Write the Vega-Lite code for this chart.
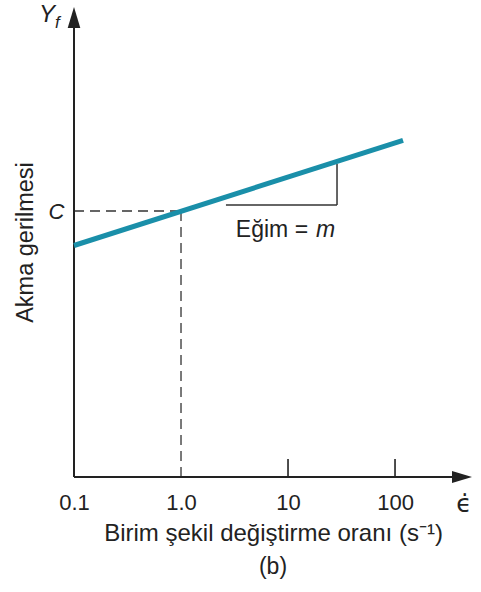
{
  "$schema": "https://vega.github.io/schema/vega-lite/v6.json",
  "width": 398,
  "height": 470,
  "autosize": {"type": "none"},
  "padding": {"left": 74, "top": 7, "right": 9, "bottom": 115},
  "background": "white",
  "config": {"view": {"stroke": null}, "font": "Liberation Sans"},
  "encoding": {
    "x": {
      "field": "x", "type": "quantitative",
      "scale": {"type": "log", "domain": [0.1, 524], "nice": false},
      "axis": {
        "values": [0.1, 1, 10, 100],
        "labelExpr": "datum.value < 0.5 ? '0.1' : datum.value < 5 ? '1.0' : datum.value < 50 ? '10' : '100'",
        "domain": false, "ticks": false, "grid": false,
        "labelFlush": false, "labelOverlap": false, "labelBound": false,
        "labelFont": "Liberation Sans", "labelFontSize": 22, "labelColor": "#222", "labelPadding": 15,
        "title": "Birim şekil değiştirme oranı (s⁻¹)",
        "titleFont": "Liberation Sans", "titleFontSize": 24, "titleFontWeight": "normal", "titleColor": "#222",
        "titleY": 63, "titleBaseline": "alphabetic"
      }
    },
    "y": {
      "field": "y", "type": "quantitative",
      "scale": {"domain": [0, 470], "nice": false, "zero": false},
      "axis": {
        "values": [266],
        "labelExpr": "'C'",
        "domain": false, "ticks": false, "grid": false,
        "labelFont": "Liberation Sans", "labelFontSize": 22, "labelFontStyle": "italic", "labelColor": "#222", "labelPadding": 10,
        "title": "Akma gerilmesi",
        "titleFont": "Liberation Sans", "titleFontSize": 23.5, "titleFontWeight": "normal", "titleColor": "#222",
        "titleX": -49, "titleY": 235, "titleAngle": 270, "titleBaseline": "middle", "titleAlign": "center"
      }
    }
  },
  "layer": [
    {
      "data": {"values": [
        {"x": 0.1, "y": 266, "x2": 1, "y2": 266},
        {"x": 1, "y": 0, "x2": 1, "y2": 266}
      ]},
      "mark": {"type": "rule", "color": "#333", "strokeWidth": 1.3, "strokeDash": [10, 6], "clip": false},
      "encoding": {"x2": {"field": "x2"}, "y2": {"field": "y2"}}
    },
    {
      "data": {"values": [
        {"x": 0.1, "y": 0, "x2": 0.1, "y2": 451},
        {"x": 0.1, "y": 0, "x2": 363.8, "y2": 0}
      ]},
      "mark": {"type": "rule", "color": "#222", "strokeWidth": 2, "clip": false},
      "encoding": {"x2": {"field": "x2"}, "y2": {"field": "y2"}}
    },
    {
      "data": {"values": [
        {"x": 10, "y": 0, "x2": 10, "y2": 18},
        {"x": 100, "y": 0, "x2": 100, "y2": 18}
      ]},
      "mark": {"type": "rule", "color": "#222", "strokeWidth": 1.6, "clip": false},
      "encoding": {"x2": {"field": "x2"}, "y2": {"field": "y2"}}
    },
    {
      "data": {"values": [
        {"x": 2.63, "y": 272, "x2": 28.7, "y2": 272},
        {"x": 28.7, "y": 272, "x2": 28.7, "y2": 313}
      ]},
      "mark": {"type": "rule", "color": "#333", "strokeWidth": 1.5, "clip": false},
      "encoding": {"x2": {"field": "x2"}, "y2": {"field": "y2"}}
    },
    {
      "data": {"values": [
        {"x": 0.1, "y": 231.5},
        {"x": 118.8, "y": 336.7}
      ]},
      "mark": {"type": "line", "color": "#1a8fa9", "strokeWidth": 5, "strokeCap": "butt", "clip": false},
      "encoding": {}
    },
    {
      "data": {"values": [{"x": 0.1, "y": 459.5}]},
      "mark": {"type": "point", "filled": true, "opacity": 1, "color": "#222", "shape": "M0,-1L0.6,1L-0.6,1Z", "size": 441, "clip": false},
      "encoding": {}
    },
    {
      "data": {"values": [{"x": 422.7, "y": 0}]},
      "mark": {"type": "point", "filled": true, "opacity": 1, "color": "#222", "shape": "M1,0L-1,0.6L-1,-0.6Z", "size": 400, "clip": false},
      "encoding": {}
    },
    {
      "data": {"values": [{"x": 0.0559, "y": 455, "t": "Y"}]},
      "mark": {"type": "text", "font": "Liberation Sans", "fontStyle": "italic", "fontSize": 24, "color": "#222", "align": "center", "baseline": "alphabetic", "clip": false},
      "encoding": {"text": {"field": "t"}}
    },
    {
      "data": {"values": [{"x": 0.0665, "y": 449, "t": "f"}]},
      "mark": {"type": "text", "font": "Liberation Sans", "fontStyle": "italic", "fontSize": 17, "color": "#222", "align": "left", "baseline": "alphabetic", "clip": false},
      "encoding": {"text": {"field": "t"}}
    },
    {
      "data": {"values": [{"x": 441.6, "y": -35, "t": "ϵ̇"}]},
      "mark": {"type": "text", "font": "DejaVu Sans", "fontSize": 25, "color": "#222", "align": "center", "baseline": "alphabetic", "clip": false},
      "encoding": {"text": {"field": "t"}}
    },
    {
      "data": {"values": [{"x": 7.24, "y": -97, "t": "(b)"}]},
      "mark": {"type": "text", "font": "Liberation Sans", "fontSize": 23, "color": "#222", "align": "center", "baseline": "alphabetic", "clip": false},
      "encoding": {"text": {"field": "t"}}
    },
    {
      "data": {"values": [{"x": 15.4, "y": 240, "t": "Eğim ="}]},
      "mark": {"type": "text", "font": "Liberation Sans", "fontSize": 23, "color": "#222", "align": "right", "baseline": "alphabetic", "clip": false},
      "encoding": {"text": {"field": "t"}}
    },
    {
      "data": {"values": [{"x": 18.3, "y": 240, "t": "m"}]},
      "mark": {"type": "text", "font": "Liberation Sans", "fontStyle": "italic", "fontSize": 23, "color": "#222", "align": "left", "baseline": "alphabetic", "clip": false},
      "encoding": {"text": {"field": "t"}}
    }
  ]
}
